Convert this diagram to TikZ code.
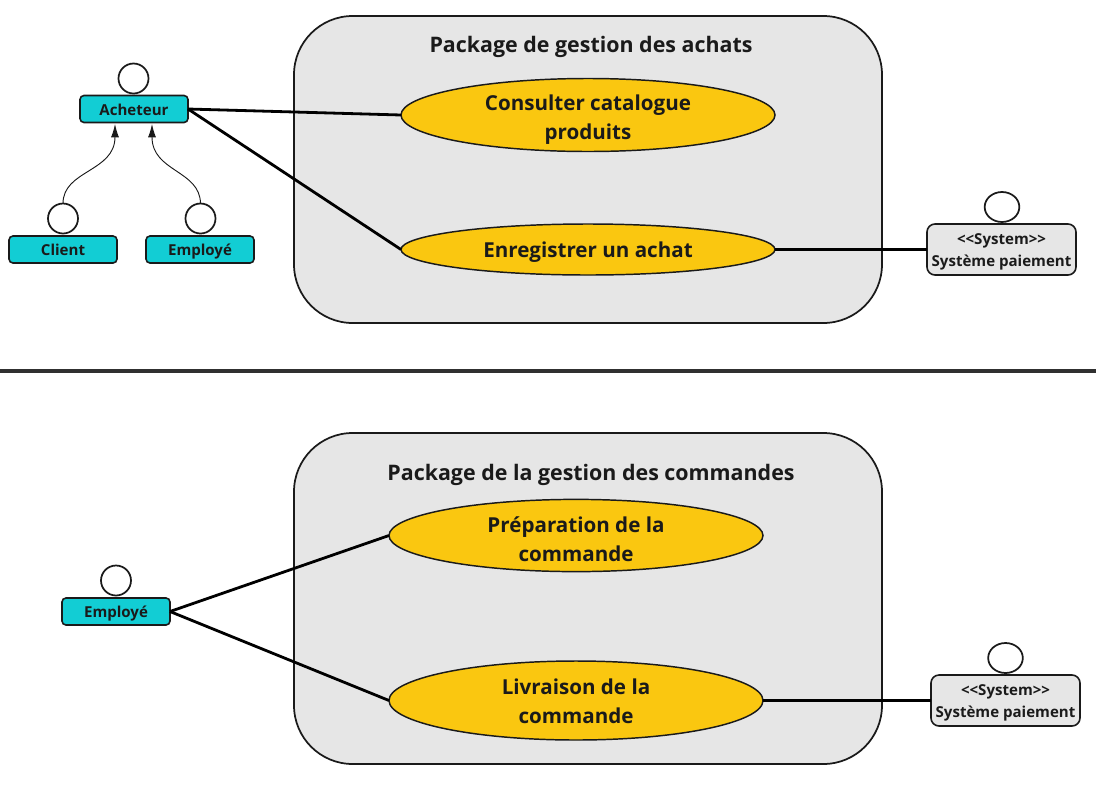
\documentclass[tikz,border=0pt]{standalone}
\usepackage{fontspec}
\setmainfont{Open Sans}
\usetikzlibrary{arrows.meta,shapes.geometric}
\definecolor{teal}{HTML}{12CDD4}
\definecolor{usecase}{HTML}{FAC710}
\definecolor{pkggray}{HTML}{E6E6E6}
\definecolor{ink}{HTML}{1A1A1A}
\definecolor{sepink}{HTML}{303030}

\begin{document}
\begin{tikzpicture}[x=.75pt, y=-.75pt, every node/.append style={font=\bfseries, text=ink, outer sep=0pt},
    pkg/.style={draw=ink, fill=pkggray, line width=1.3pt, rounded corners=44pt, minimum width=441pt},
    pkgtitle/.style={font=\bfseries\fontsize{16.05}{19}\selectfont},
    usecasebox/.style={draw=ink, fill=usecase, ellipse, line width=1.1pt, minimum width=280.5pt, inner sep=0pt, text depth=0pt, align=center, font=\bfseries\fontsize{15.45}{21.75}\selectfont},
    head/.style={draw=ink, fill=white, circle, line width=1.3pt, minimum size=22.5pt, inner sep=0pt},
    syshead/.style={draw=ink, fill=white, ellipse, line width=1.3pt, minimum width=26pt, minimum height=22.5pt, inner sep=0pt},
    actor/.style={draw=ink, fill=teal, rounded corners=3pt, line width=1.2pt, minimum width=81pt, minimum height=20.25pt, inner sep=0pt, text height=9pt, text depth=0pt, font=\bfseries\fontsize{11.3}{13}\selectfont},
    sysbox/.style={draw=ink, fill=pkggray, rounded corners=6pt, line width=1.2pt, minimum width=111.75pt, minimum height=38.25pt, inner sep=0pt, text height=25.4pt, text depth=0pt, align=center, font=\bfseries\fontsize{11.3}{16.5}\selectfont},
    assoc/.style={draw=black, line width=2.1pt},
    sepline/.style={draw=sepink, line width=2.3pt},
    inherit/.style={draw=ink, line width=.7pt, -{Latex[length=10pt,width=6pt]}}]
    \useasboundingbox (0,0) rectangle (1096,804);

    % upper package
    \node[pkg, minimum height=230.25pt] (pkgachats) at (588,169.5) {};
    \node[pkgtitle] (titreachats) at (591,47) {Package de gestion des achats};
    \node[usecasebox, minimum height=54.75pt, text height=36pt] (consulter) at (588,115) {Consulter catalogue\\produits};
    \node[usecasebox, minimum height=38.25pt, text height=11.25pt] (enregistrer) at (588,249.5) {Enregistrer un achat};

    \node[head] (hacheteur) at (133.5,78.5) {};
    \node[actor] (acheteur) at (134,109) {Acheteur};
    \node[head] (hclient) at (63,218.5) {};
    \node[actor] (client) at (63,249.5) {Client};
    \node[head] (hemploye) at (200.5,218.5) {};
    \node[actor] (employe) at (200,249.5) {Employé};
    \node[syshead] (hsysteme) at (1002,207) {};
    \node[sysbox] (systeme) at (1001.5,249.5) {<{}<System>{}>\\Système paiement};

    \coordinate (achl) at (115,124);
    \coordinate (achr) at (152,124);
    \draw[inherit] (hclient.north) .. controls (63,170) and (115,172) .. (achl);
    \draw[inherit] (hemploye.north) .. controls (200,170) and (152,172) .. (achr);

    \draw[assoc] (acheteur.east) -- (consulter.west);
    \draw[assoc] (acheteur.east) -- (enregistrer.west);
    \draw[assoc] (enregistrer.east) -- (systeme.west);

    % separator
    \coordinate (sepl) at (0,371);
    \coordinate (sepr) at (1096,371);
    \draw[sepline] (sepl) -- (sepr);

    % lower package
    \node[pkg, minimum height=248.25pt] (pkgcommandes) at (588,598.5) {};
    \node[pkgtitle] (titrecommandes) at (591,475) {Package de la gestion des commandes};
    \node[usecasebox, minimum height=53.25pt, text height=38.3pt] (preparation) at (576,535.5) {Préparation de la\\commande};
    \node[usecasebox, minimum height=59.25pt, text height=34.5pt] (livraison) at (576,700.5) {Livraison de la\\commande};

    \node[head] (hemployeb) at (116,580.5) {};
    \node[actor] (employeb) at (116,611.5) {Employé};
    \node[syshead] (hsystemeb) at (1005.5,658) {};
    \node[sysbox] (systemeb) at (1005.5,700.5) {<{}<System>{}>\\Système paiement};

    \draw[assoc] (employeb.east) -- (preparation.west);
    \draw[assoc] (employeb.east) -- (livraison.west);
    \draw[assoc] (livraison.east) -- (systemeb.west);
\end{tikzpicture}
\end{document}
